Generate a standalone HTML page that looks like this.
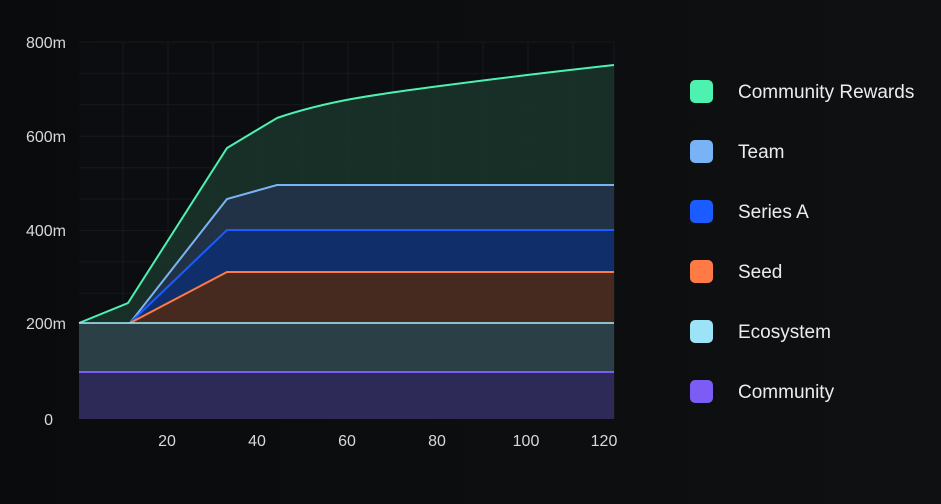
<!DOCTYPE html>
<html><head><meta charset="utf-8"><style>
html,body{margin:0;padding:0;background:#0b0c0e;}
body{width:941px;height:504px;overflow:hidden;background:linear-gradient(90deg,#0a0b0d,#0e1012);font-family:"Liberation Sans",sans-serif;}
</style></head><body>
<svg width="941" height="504" xmlns="http://www.w3.org/2000/svg" style="position:absolute;left:0;top:0">
<rect x="79" y="42" width="535" height="377" fill="#0c0d10"/>
<g stroke="#16191c" stroke-width="1">
<line x1="79" y1="42" x2="614" y2="42"/><line x1="79" y1="73.4" x2="614" y2="73.4"/><line x1="79" y1="104.8" x2="614" y2="104.8"/><line x1="79" y1="136.3" x2="614" y2="136.3"/><line x1="79" y1="167.7" x2="614" y2="167.7"/><line x1="79" y1="199.1" x2="614" y2="199.1"/><line x1="79" y1="230.5" x2="614" y2="230.5"/><line x1="79" y1="261.9" x2="614" y2="261.9"/><line x1="79" y1="293.3" x2="614" y2="293.3"/><line x1="79" y1="324.8" x2="614" y2="324.8"/><line x1="79" y1="356.2" x2="614" y2="356.2"/><line x1="79" y1="387.6" x2="614" y2="387.6"/>
<line x1="123" y1="42" x2="123" y2="419"/><line x1="168" y1="42" x2="168" y2="419"/><line x1="213" y1="42" x2="213" y2="419"/><line x1="258" y1="42" x2="258" y2="419"/><line x1="303" y1="42" x2="303" y2="419"/><line x1="348" y1="42" x2="348" y2="419"/><line x1="393" y1="42" x2="393" y2="419"/><line x1="438" y1="42" x2="438" y2="419"/><line x1="483" y1="42" x2="483" y2="419"/><line x1="528" y1="42" x2="528" y2="419"/><line x1="573" y1="42" x2="573" y2="419"/><line x1="614" y1="42" x2="614" y2="419"/>
</g>
<path d="M79,323 L128,303 L227,148 L277,118 C330,100 380,94 440,86 C500,78 560,71 614,65 L614,185 L277,185 L227,199 L130,323 Z" fill="#183229" fill-opacity="0.95"/>
<path d="M79,323 L128,303 L227,148 L277,118 C330,100 380,94 440,86 C500,78 560,71 614,65" fill="none" stroke="#4ef2b0" stroke-width="2"/>
<path d="M130,323 L227,199 L277,185 L614,185 L614,230 L227,230 Z" fill="#223246"/>
<path d="M130,323 L227,199 L277,185 L614,185" fill="none" stroke="#7ab3f5" stroke-width="2"/>
<path d="M130,323 L227,230 L614,230 L614,272 L227,272 Z" fill="#0f2e6a"/>
<path d="M130,323 L227,230 L614,230" fill="none" stroke="#1a5cff" stroke-width="2"/>
<path d="M130,323 L227,272 L614,272 L614,323 Z" fill="#46291f"/>
<path d="M130,323 L227,272 L614,272" fill="none" stroke="#ff7a45" stroke-width="2"/>
<rect x="79" y="323" width="535" height="49" fill="#2a4046"/>
<line x1="79" y1="323" x2="614" y2="323" stroke="#9de3f7" stroke-width="2" stroke-opacity="0.8"/>
<rect x="79" y="372" width="535" height="47" fill="#2e2a58"/>
<line x1="79" y1="372" x2="614" y2="372" stroke="#7b5cf5" stroke-width="2"/>
<g fill="#d8d8d8" font-size="16" text-anchor="end">
<text x="66" y="48">800m</text><text x="66" y="142">600m</text><text x="66" y="236">400m</text><text x="66" y="329">200m</text><text x="53" y="425">0</text>
</g>
<g fill="#d8d8d8" font-size="16" text-anchor="middle">
<text x="167" y="446">20</text><text x="257" y="446">40</text><text x="347" y="446">60</text><text x="437" y="446">80</text><text x="526" y="446">100</text><text x="604" y="446">120</text>
</g>
<g font-size="19" fill="#ececec">
<rect x="690" y="80" width="23" height="23" rx="5" fill="#4ef2b0"/><text x="738" y="98">Community Rewards</text>
<rect x="690" y="140" width="23" height="23" rx="5" fill="#7ab3f5"/><text x="738" y="158">Team</text>
<rect x="690" y="200" width="23" height="23" rx="5" fill="#1a5cff"/><text x="738" y="218">Series A</text>
<rect x="690" y="260" width="23" height="23" rx="5" fill="#ff7a45"/><text x="738" y="278">Seed</text>
<rect x="690" y="320" width="23" height="23" rx="5" fill="#9de3f7"/><text x="738" y="338">Ecosystem</text>
<rect x="690" y="380" width="23" height="23" rx="5" fill="#7b5cf5"/><text x="738" y="398">Community</text>
</g>
</svg>
</body></html>
